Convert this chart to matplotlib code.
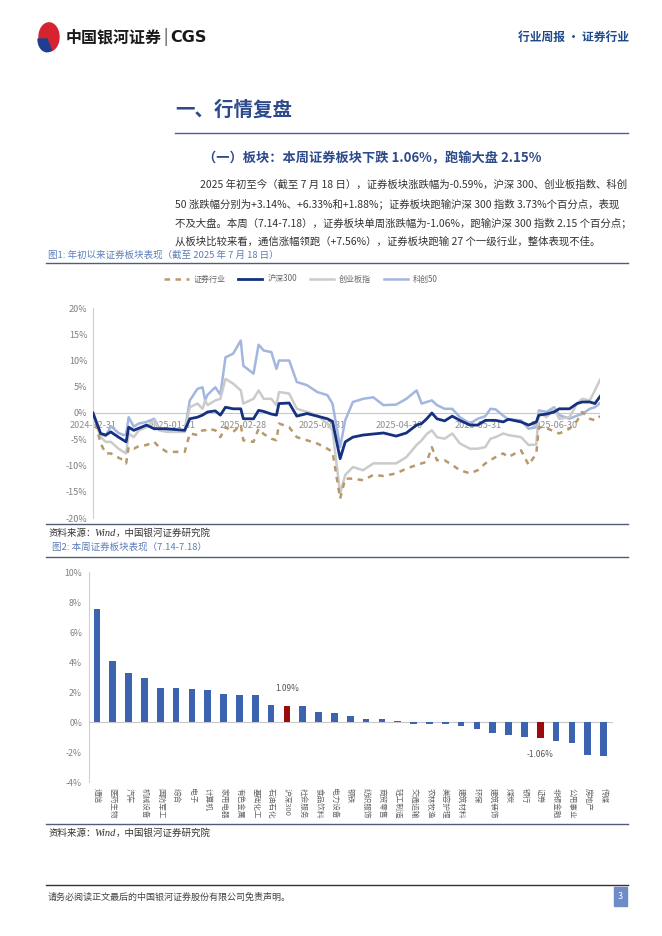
import numpy as np
import matplotlib
matplotlib.use("Agg")
import matplotlib.pyplot as plt
import matplotlib.patches as mpatches
from matplotlib.lines import Line2D
import pandas as pd

plt.rcParams['font.family'] = ['Noto Sans CJK SC', 'DejaVu Sans']

# chart 1 data: cumulative return since 2024-12-31 (%)
dates = ["2024-12-31", "2025-01-03", "2025-01-05", "2025-01-07", "2025-01-10", "2025-01-12",
         "2025-01-13", "2025-01-14", "2025-01-16", "2025-01-18", "2025-01-21", "2025-01-24",
         "2025-01-26", "2025-01-29", "2025-02-05", "2025-02-07", "2025-02-10", "2025-02-12",
         "2025-02-13", "2025-02-14", "2025-02-17", "2025-02-19", "2025-02-21", "2025-02-24",
         "2025-02-27", "2025-02-28", "2025-03-04", "2025-03-06", "2025-03-08", "2025-03-11",
         "2025-03-13", "2025-03-14", "2025-03-18", "2025-03-21", "2025-03-25", "2025-03-29",
         "2025-04-02", "2025-04-04",
         "2025-04-07", "2025-04-09", "2025-04-12", "2025-04-16", "2025-04-20", "2025-04-24",
         "2025-04-29", "2025-05-03", "2025-05-07", "2025-05-09", "2025-05-11", "2025-05-13",
         "2025-05-15", "2025-05-18", "2025-05-21", "2025-05-24", "2025-05-28", "2025-05-31",
         "2025-06-03", "2025-06-05", "2025-06-07", "2025-06-10", "2025-06-12", "2025-06-17",
         "2025-06-20", "2025-06-23", "2025-06-24", "2025-06-27", "2025-06-30", "2025-07-02",
         "2025-07-06", "2025-07-09", "2025-07-11", "2025-07-14", "2025-07-16", "2025-07-18"]

kc50 = [0, -4.0, -4.4, -2.5, -3.8, -4.2, -4.0, -0.8, -2.6, -2.0, -1.7, -1.1, -3.0, -3.3,
        -3.3, 2.4, 4.6, 4.9, 2.4, 3.5, 4.9, 3.5, 10.6, 11.3, 13.8, 9.0, 7.5, 13.0, 11.9,
        11.6, 8.4, 10.0, 10.0, 5.9, 5.3, 4.0, 3.4, 1.8,
        -6.5, -1.4, 2.1, 2.7, 3.0, 1.5, 1.6, 2.7, 4.3, 1.8, 2.1, 2.4, 1.5, 0.8, 0.8, -0.8,
        -2.0, -1.1, -0.6, 0.8, 0.7, -0.5, -1.2, -1.4, -3.0, -2.7, 0.5, 0.2, 1.1, -0.4,
        -1.1, -0.5, -0.2, 0.8, 1.1, 1.88]
hs300 = [0, -3.9, -4.2, -3.6, -4.6, -5.2, -5.5, -2.7, -3.3, -2.9, -2.3, -3.0, -3.0, -3.0,
         -3.3, -1.1, -0.8, -0.4, -0.1, 0.2, 0.4, -0.4, 1.1, 0.8, 0.8, -1.1, -1.1, 0.5, 0.3,
         -0.2, -0.4, 1.8, 1.9, -0.6, -0.1, -0.6, -1.1, -1.6,
         -8.7, -5.5, -4.6, -4.2, -4.0, -3.8, -4.4, -3.8, -2.3, -2.0, -1.1, 0.0, -1.1, -1.5,
         -0.6, -1.4, -2.3, -2.3, -1.4, -1.4, -1.4, -1.7, -1.2, -1.7, -2.3, -1.7, -0.4, -0.2,
         0.2, 0.8, 0.8, 1.8, 2.1, 2.1, 1.8, 3.14]
cyb = [0, -4.6, -5.5, -5.5, -6.8, -7.4, -7.7, -3.9, -4.6, -3.3, -2.7, -1.4, -3.3, -3.6,
       -3.6, 1.1, 1.8, 0.8, 2.4, 1.5, 2.4, 2.7, 6.5, 5.6, 4.3, 1.8, 2.7, 4.3, 2.7, 2.7,
       1.5, 4.0, 3.7, 0.8, 0.2, -0.4, -2.0, -3.3,
       -15.3, -11.8, -10.3, -10.9, -9.6, -9.6, -9.6, -8.4, -6.1, -5.2, -4.0, -3.3, -4.6,
       -4.9, -3.9, -5.8, -6.8, -6.8, -6.5, -4.9, -4.6, -3.9, -4.2, -4.6, -6.1, -6.0, 0.2,
       -0.8, 0.8, -1.1, -0.8, 1.8, 2.7, 2.4, 4.3, 6.33]
zq = [0, -5.8, -7.7, -7.7, -8.5, -9.0, -9.6, -6.5, -6.8, -6.3, -6.1, -5.5, -6.5, -7.4,
      -7.4, -3.9, -4.2, -3.3, -3.3, -3.0, -3.3, -4.6, -2.7, -3.6, -2.3, -5.2, -5.5, -3.0,
      -4.0, -4.9, -5.2, -2.0, -2.7, -4.6, -5.2, -5.8, -6.8, -7.4,
      -16.3, -12.5, -12.5, -12.8, -11.8, -12.0, -11.5, -10.6, -9.9, -9.6, -9.3, -6.5, -9.0,
      -9.0, -9.9, -10.9, -11.5, -10.9, -9.6, -9.0, -8.4, -7.7, -8.4, -7.1, -9.9, -7.7,
      -2.7, -2.9, -3.5, -3.9, -3.0, -1.5, 0.2, -1.1, -1.4, -0.59]
month_ticks = ["2024-12-31", "2025-01-31", "2025-02-28", "2025-03-31",
               "2025-04-30", "2025-05-31", "2025-06-30"]

# chart 2 data: weekly change by sector (%)
sectors = ["通信", "医药生物", "汽车", "机械设备", "国防军工", "综合", "电子", "计算机",
           "家用电器", "有色金属", "基础化工", "石油石化", "沪深300", "社会服务", "食品饮料",
           "电力设备", "钢铁", "纺织服饰", "商贸零售", "轻工制造", "交通运输", "农林牧渔",
           "美容护理", "建筑材料", "环保", "建筑装饰", "煤炭", "银行", "证券", "非银金融",
           "公用事业", "房地产", "传媒"]
weekly = [7.56, 4.07, 3.30, 2.94, 2.29, 2.27, 2.18, 2.13, 1.87, 1.82, 1.78, 1.15, 1.09,
          1.06, 0.67, 0.58, 0.38, 0.22, 0.22, 0.07, -0.13, -0.13, -0.13, -0.25, -0.49,
          -0.74, -0.88, -1.03, -1.06, -1.26, -1.39, -2.20, -2.25]

W, H = 662, 936
fig = plt.figure(figsize=(W / 100, H / 100), dpi=100)


def fx(x):
    return x / W


def fy(y):
    return 1 - y / H


def rule(y, x0=46, x1=628, color='#4E5D7A', lw=1.0):
    fig.add_artist(Line2D([fx(x0), fx(x1)], [fy(y), fy(y)], color=color, lw=lw))


# header
fig.add_artist(mpatches.Circle((fx(49), fy(37)), 10 / W, color='#D7232F',
                               transform=fig.transFigure))
fig.add_artist(mpatches.Wedge((fx(47), fy(39)), 9 / W, 180, 300, color='#1E3F8F',
                              transform=fig.transFigure))
fig.text(fx(66), fy(37), "中国银河证券", fontsize=11.5, fontweight='bold', va='center',
         color='#1A1A1A')
fig.text(fx(163), fy(37), "|", fontsize=11, va='center', color='#333333')
fig.text(fx(170), fy(37), "CGS", fontsize=11.5, fontweight='bold', va='center',
         color='#1A1A1A', family='DejaVu Sans')
fig.text(fx(629), fy(37), "行业周报 · 证券行业", fontsize=8.5, va='center', ha='right',
         color='#1F4A8A', fontweight='bold')

# section title
fig.text(fx(175), fy(110), "一、行情复盘", fontsize=14, fontweight='bold', va='center',
         color='#2D4A8A')
rule(133, 175, 628, color='#4A5FA0')
fig.text(fx(372), fy(158), "（一）板块：本周证券板块下跌 1.06%，跑输大盘 2.15%", fontsize=9.5,
         fontweight='bold', va='center', ha='center', color='#2D4A8A')

para = ["2025 年初至今（截至 7 月 18 日），证券板块涨跌幅为-0.59%，沪深 300、创业板指数、科创",
        "50 涨跌幅分别为+3.14%、+6.33%和+1.88%；证券板块跑输沪深 300 指数 3.73%个百分点，表现",
        "不及大盘。本周（7.14-7.18），证券板块单周涨跌幅为-1.06%，跑输沪深 300 指数 2.15 个百分点；",
        "从板块比较来看，通信涨幅领跑（+7.56%），证券板块跑输 27 个一级行业，整体表现不佳。"]
for i, line in enumerate(para):
    x0 = 200 if i == 0 else 175
    fig.text(fx(x0), fy(185 + i * 18.7), line, fontsize=7.5, va='center', color='#333333')

# figure 1
fig.text(fx(48), fy(255), "图1: 年初以来证券板块表现（截至 2025 年 7 月 18 日）", fontsize=6.8,
         va='center', color='#5B7DB8')
rule(263)

df = pd.DataFrame({"date": pd.to_datetime(dates), "zq": zq, "hs300": hs300,
                   "cyb": cyb, "kc50": kc50})
ax1 = fig.add_axes([fx(93), fy(518), (600 - 93) / W, 210 / H])
l_kc, = ax1.plot(df["date"], df["kc50"], color='#A3B6E0', lw=1.8, label='科创50', zorder=2)
l_cy, = ax1.plot(df["date"], df["cyb"], color='#CBCBCB', lw=1.8, label='创业板指', zorder=2)
l_zq, = ax1.plot(df["date"], df["zq"], color='#B8996C', lw=1.8, dashes=(2.2, 2.2),
                 label='证券行业', zorder=3)
l_hs, = ax1.plot(df["date"], df["hs300"], color='#14307F', lw=2.0, label='沪深300', zorder=4)
ax1.axhline(0, color='#C8C8C8', lw=0.8, zorder=1)
ax1.set_xlim(pd.Timestamp("2024-12-31"), pd.Timestamp("2025-07-18"))
ax1.set_ylim(-20, 20)
ax1.set_yticks(range(-20, 21, 5))
ax1.set_yticklabels([f"{v}%" for v in range(-20, 21, 5)], fontsize=6.5, color='#7F7F7F')
ax1.tick_params(axis='y', length=0, pad=4)
ax1.set_xticks([])
for s in ['top', 'right', 'bottom']:
    ax1.spines[s].set_visible(False)
ax1.spines['left'].set_color('#D0D0D0')
ax1.spines['left'].set_linewidth(0.8)
for d in month_ticks:
    ax1.text(pd.Timestamp(d), -2.3, d, fontsize=6.5, color='#8C8C8C', ha='center',
             va='center', zorder=1)
ax1.legend(handles=[l_zq, l_hs, l_cy, l_kc], loc='center', ncol=4, frameon=False,
           fontsize=5.8, bbox_to_anchor=(fx(301), fy(279)), bbox_transform=fig.transFigure,
           handlelength=3.0, handletextpad=0.6, columnspacing=1.6, labelcolor='#666666')

rule(524)
fig.text(fx(48), fy(533), "资料来源：", fontsize=6.8, va='center', color='#333333')
fig.text(fx(94), fy(533), "Wind", fontsize=7.5, va='center', color='#333333',
         family='Liberation Serif', style='italic')
fig.text(fx(116), fy(533), "，中国银河证券研究院", fontsize=6.8, va='center', color='#333333')

# figure 2
fig.text(fx(52), fy(547), "图2: 本周证券板块表现（7.14-7.18）", fontsize=6.8, va='center',
         color='#5B7DB8')
rule(557)

ax2 = fig.add_axes([fx(89), fy(782), (613 - 89) / W, 210 / H])
x = np.arange(len(sectors))
colors = ['#9B0D0D' if s in ("沪深300", "证券") else '#3C63B0' for s in sectors]
ax2.bar(x, weekly, width=0.42, color=colors, zorder=2)
ax2.axhline(0, color='#C8C8C8', lw=0.8, zorder=1)
ax2.set_xlim(-0.5, 32.6)
ax2.set_ylim(-4, 10)
ax2.set_yticks(range(-4, 11, 2))
ax2.set_yticklabels([f"{v}%" for v in range(-4, 11, 2)], fontsize=6.3, color='#7F7F7F')
ax2.tick_params(axis='y', length=0, pad=5)
ax2.set_xticks(x)
ax2.set_xticklabels(sectors, rotation=-90, fontsize=5.5, color='#666666', va='top')
ax2.tick_params(axis='x', length=0, pad=4)
for s in ['top', 'right', 'bottom']:
    ax2.spines[s].set_visible(False)
ax2.spines['left'].set_color('#D0D0D0')
ax2.spines['left'].set_linewidth(0.8)
i_hs = sectors.index("沪深300")
i_zq = sectors.index("证券")
ax2.annotate(f"{weekly[i_hs]:.2f}%", (x[i_hs], weekly[i_hs]), xytext=(0, 12),
             textcoords='offset points', ha='center', va='center', fontsize=6, color='#555555')
ax2.annotate(f"{weekly[i_zq]:.2f}%", (x[i_zq], weekly[i_zq]), xytext=(0, -12),
             textcoords='offset points', ha='center', va='center', fontsize=6, color='#555555')

rule(824)
fig.text(fx(48), fy(833), "资料来源：", fontsize=6.8, va='center', color='#333333')
fig.text(fx(94), fy(833), "Wind", fontsize=7.5, va='center', color='#333333',
         family='Liberation Serif', style='italic')
fig.text(fx(116), fy(833), "，中国银河证券研究院", fontsize=6.8, va='center', color='#333333')

# footer
rule(885, 46, 628, color='#333333', lw=1.0)
fig.text(fx(48), fy(897), "请务必阅读正文最后的中国银河证券股份有限公司免责声明。", fontsize=6.5,
         va='center', color='#444444')
fig.add_artist(mpatches.Rectangle((fx(614), fy(906)), 13 / W, 19 / H, color='#6D8CC8',
                                  transform=fig.transFigure))
fig.text(fx(620.5), fy(896.5), "3", fontsize=6.5, va='center', ha='center', color='white')

fig.savefig("out.png", dpi=100)
